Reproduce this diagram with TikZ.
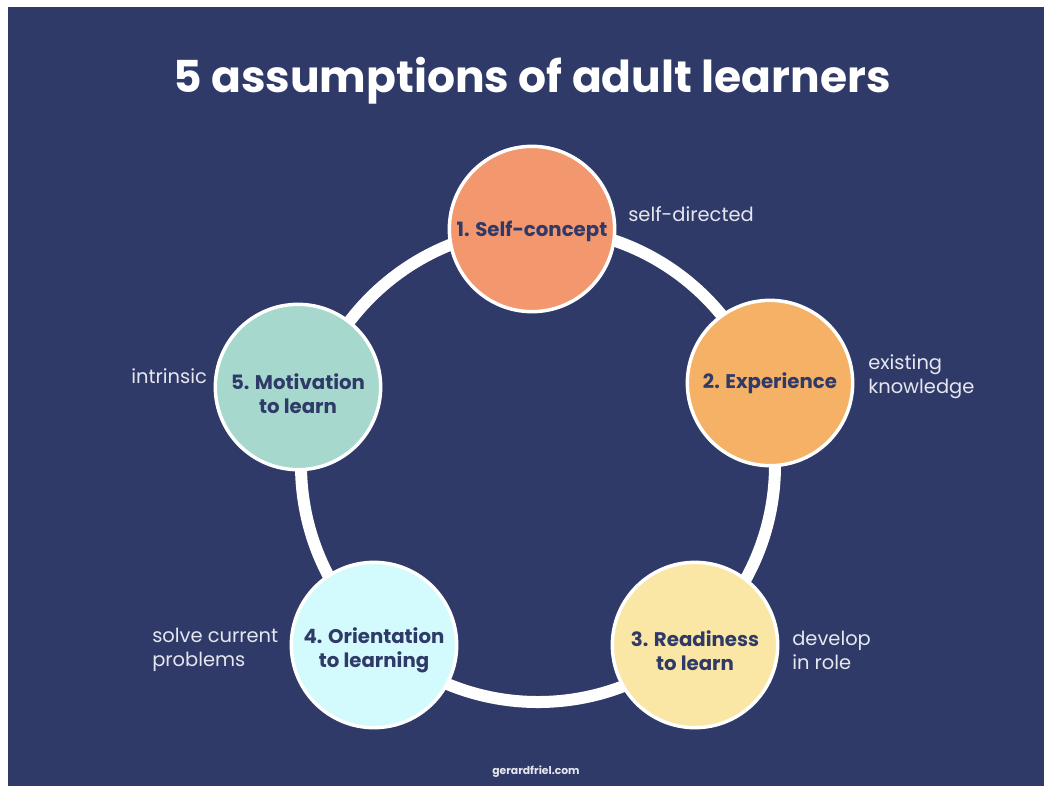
\documentclass[tikz,border=0pt]{standalone}
\usepackage{fontspec}
\setmainfont{Poppins}
\usepackage{tikz}

\definecolor{navy}{HTML}{2F3A68}
\definecolor{salmon}{HTML}{F3976F}
\definecolor{apricot}{HTML}{F5B266}
\definecolor{butter}{HTML}{FAE6A5}
\definecolor{icecyan}{HTML}{D3FBFD}
\definecolor{mint}{HTML}{A6D8CD}
\definecolor{paletext}{HTML}{E6E7EE}

\tikzset{
  step circle/.style={circle,draw=white,line width=2.6pt,minimum size=124pt,
    inner sep=0pt},
  step text/.style={align=center,text=navy,inner sep=0pt,
    font=\bfseries\fontsize{14.8}{18}\selectfont},
  side note/.style={anchor=west,align=left,text=paletext,inner sep=0pt,
    font=\fontsize{14.6}{18}\selectfont}
}

\begin{document}
\begin{tikzpicture}[x=0.75pt,y=-0.75pt]
  % page and background panel (pixel units, y down)
  \useasboundingbox (0,0) rectangle (1044,786);
  \fill[white] (0,0) rectangle (1044,786);
  \fill[navy] (8,7) rectangle (1044,786);

  % Title
  \node[text=white,font=\bfseries\fontsize{33}{38}\selectfont] (title) at (532,81)
    {5 assumptions of adult learners};

  % Ring behind the five steps
  \coordinate (hub) at (538,465);
  \draw[white,line width=9pt] (hub) circle (237);

  % The five steps
  \node[step circle,fill=salmon]  (self)   at (532,229) {};
  \node[step circle,fill=apricot] (exper)  at (770,383) {};
  \node[step circle,fill=butter]  (ready)  at (695,645) {};
  \node[step circle,fill=icecyan] (orient) at (374,645) {};
  \node[step circle,fill=mint]    (motiv)  at (298,387) {};

  % Step titles (sit a little below centre)
  \node[step text] (selftext)   at ([yshift=-1.5pt]self.center)  {1. Self-concept};
  \node[step text] (expertext)  at ([yshift=0pt]exper.center)    {2. Experience};
  \node[step text] (readytext)  at ([yshift=-4pt]ready.center)   {3. Readiness\\to learn};
  \node[step text] (orienttext) at ([yshift=-4pt]orient.center)  {4. Orientation\\to learning};
  \node[step text] (motivtext)  at ([yshift=-5pt]motiv.center)   {5. Motivation\\to learn};

  % Notes beside each step
  \node[side note] (selfnote)   at (628,214) {self-directed};
  \node[side note] (expernote)  at (868,377) {existing\\knowledge};
  \node[side note] (readynote)  at (792,650) {develop\\in role};
  \node[side note] (orientnote) at (152,650) {solve current\\problems};
  \node[side note] (motivnote)  at (131,376) {intrinsic};

  % Footer
  \node[text=paletext,font=\bfseries\fontsize{8.1}{9}\selectfont] (site) at (536,772)
    {gerardfriel.com};
\end{tikzpicture}
\end{document}
